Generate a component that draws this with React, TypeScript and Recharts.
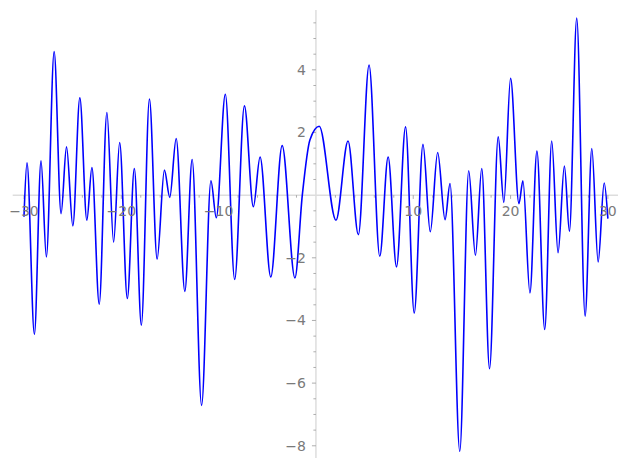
import { LineChart, Line, XAxis, YAxis, ReferenceLine } from "recharts";

// local extrema (plus ends)
const curveX = [
  -30, -29.69, -28.93, -28.25, -27.7, -26.9, -26.19, -25.63, -24.98, -24.26,
  -23.54, -23.02, -22.27, -21.48, -20.79, -20.17, -19.38, -18.66, -17.94,
  -17.11, -16.32, -15.57, -15.02, -14.36, -13.47, -12.72, -11.75, -10.79,
  -10.24, -9.31, -8.35, -7.35, -6.43, -5.74, -4.64, -3.47, -2.16, -1.4,
  -0.62, 0.34, 2.06, 3.3, 4.36, 5.46, 6.56, 7.42, 8.28, 9.21, 10.1, 11.0,
  11.75, 12.51, 13.27, 13.78, 14.78, 15.7, 16.39, 17.04, 17.84, 18.73, 19.31,
  20.0, 20.86, 21.27, 21.99, 22.71, 23.51, 24.23, 24.88, 25.53, 26.05, 26.8,
  27.66, 28.35, 29.0, 29.62, 30,
];
const curveY = [
  -0.69, 1.03, -4.44, 1.1, -1.97, 4.58, -0.59, 1.54, -0.98, 3.11,
  -0.8, 0.88, -3.48, 2.64, -1.5, 1.68, -3.3, 0.85, -4.15,
  3.07, -2.04, 0.8, -0.07, 1.81, -3.07, 1.14, -6.71, 0.46,
  -0.72, 3.22, -2.69, 2.85, -0.37, 1.22, -2.61, 1.58, -2.64, 0,
  1.76, 2.2, -0.8, 1.73, -1.26, 4.15, -1.95, 1.22, -2.29, 2.18, -3.76, 1.62,
  -1.17, 1.36, -0.78, 0.37, -8.18, 0.78, -1.92, 0.85, -5.54, 1.86, -0.23,
  3.73, -0.27, 0.46, -3.12, 1.41, -4.29, 1.73, -1.84, 0.93, -1.15, 5.65,
  -3.86, 1.49, -2.13, 0.39, -0.75,
];

const xMajorTicks = [-30, -20, -10, 10, 20, 30];
const xMinorTicks = [
  -28, -26, -24, -22, -18, -16, -14, -12, -8, -6, -4, -2, 2, 4, 6, 8,
  12, 14, 16, 18, 22, 24, 26, 28,
];
const yMajorTicks = [-8, -6, -4, -2, 2, 4];
const yMinorTicks = [
  -7.5, -7, -6.5, -5.5, -5, -4.5, -3.5, -3, -2.5, -1.5, -1, -0.5,
  0.5, 1, 1.5, 2.5, 3, 3.5, 4.5, 5, 5.5,
];

const data = curveX.map((x, i) => ({ x, y: curveY[i] }));

const fmt = (v: number) => (v < 0 ? `\u2212${Math.abs(v)}` : `${v}`);

const labelStyle = { fill: "#7a7a7a", fontSize: 14, fontFamily: "DejaVu Sans" };

export default function App() {
  return (
    <div style={{ position: "absolute", left: 0, top: 0, fontFamily: "DejaVu Sans" }}>
      <LineChart
        width={627}
        height={470}
        data={data}
        margin={{ top: 10, right: 9, bottom: 12, left: 12.7 }}
      >
        <XAxis
          type="number"
          dataKey="x"
          domain={[-31.16, 31.04]}
          allowDataOverflow
          hide
        />
        <YAxis type="number" domain={[-8.39, 5.91]} allowDataOverflow hide />
        <ReferenceLine y={0} stroke="#dddddd" strokeWidth={1.5} />
        <ReferenceLine x={0} stroke="#dddddd" strokeWidth={1.5} />
        {xMinorTicks.map((t) => (
          <ReferenceLine
            key={`xm${t}`}
            segment={[
              { x: t, y: 0 },
              { x: t, y: -0.08 },
            ]}
            stroke="#999"
            strokeWidth={0.8}
          />
        ))}
        {xMajorTicks.map((t) => (
          <ReferenceLine
            key={`xM${t}`}
            segment={[
              { x: t, y: 0 },
              { x: t, y: -0.12 },
            ]}
            stroke="#999"
            strokeWidth={0.8}
            label={{ value: fmt(t), position: "bottom", offset: 7, ...labelStyle }}
          />
        ))}
        {yMinorTicks.map((t) => (
          <ReferenceLine
            key={`ym${t}`}
            segment={[
              { x: -0.26, y: t },
              { x: 0, y: t },
            ]}
            stroke="#999"
            strokeWidth={0.8}
          />
        ))}
        {yMajorTicks.map((t) => (
          <ReferenceLine
            key={`yM${t}`}
            segment={[
              { x: -0.41, y: t },
              { x: 0, y: t },
            ]}
            stroke="#999"
            strokeWidth={0.8}
            label={{ value: fmt(t), position: "left", offset: 6, ...labelStyle }}
          />
        ))}
        <Line
          type="monotone"
          dataKey="y"
          stroke="#0000ff"
          strokeWidth={1.6}
          dot={false}
          isAnimationActive={false}
        />
      </LineChart>
    </div>
  );
}
